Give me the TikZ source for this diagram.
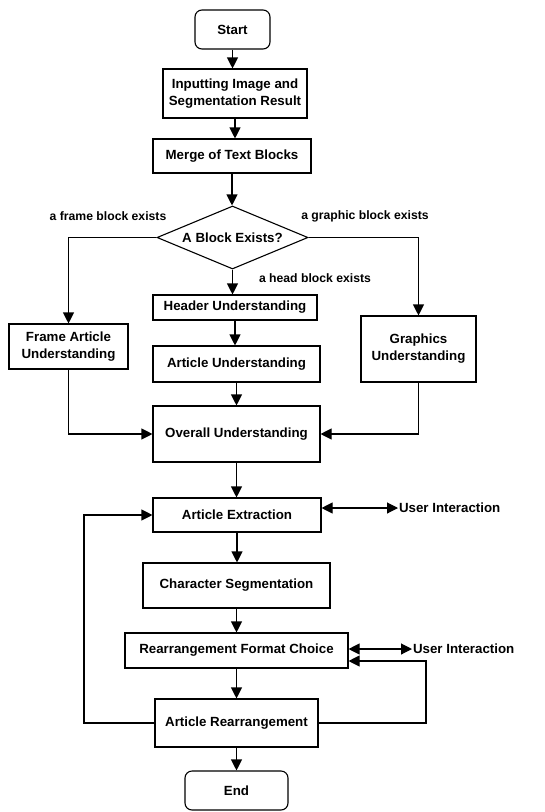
\documentclass[tikz,border=0pt]{standalone}
\usepackage{fontspec}
\setmainfont{Liberation Sans}
\usetikzlibrary{shapes.geometric,arrows.meta}
\begin{document}
\begin{tikzpicture}[x=1pt,y=-1pt,
  every path/.style={line width=1.1pt},
  box/.style={draw, line width=1.1pt, align=center, inner sep=0pt,
    font=\bfseries\fontsize{13.3}{17}\selectfont},
  term/.style={box, rounded corners=7pt},
  lab/.style={inner sep=0pt, font=\bfseries\fontsize{12.2}{14}\selectfont},
  arr/.style={-{Triangle[length=11pt,width=11pt]}},
  darr/.style={{Triangle[length=11pt,width=11pt]}-{Triangle[length=11pt,width=11pt]}}]
\useasboundingbox (0,0) rectangle (545,812);
\node[term, minimum width=75pt, minimum height=39pt] (start) at (232.5,29.5) {Start};
\node[box, minimum width=144pt, minimum height=49pt] (inp) at (235,93.5) {Inputting Image and\\Segmentation Result};
\node[box, minimum width=158pt, minimum height=34pt] (merge) at (232,156) {Merge of Text Blocks};
\node[box, diamond, aspect=2.4, minimum width=151pt, minimum height=63pt] (dec) at (232.5,237.5) {A Block Exists?};
\node[box, minimum width=119pt, minimum height=45pt] (frame) at (68.5,346.5) {Frame Article\\Understanding};
\node[box, minimum width=164pt, minimum height=25pt] (header) at (235,307.5) {Header Understanding};
\node[box, minimum width=167pt, minimum height=36pt] (artu) at (236.5,364) {Article Understanding};
\node[box, minimum width=115pt, minimum height=66pt] (graph) at (418.5,349) {Graphics\\Understanding};
\node[box, minimum width=167pt, minimum height=56pt] (overall) at (236.5,434) {Overall Understanding};
\node[box, minimum width=168pt, minimum height=34pt] (extr) at (237,515) {Article Extraction};
\node[box, minimum width=187pt, minimum height=45pt] (charseg) at (236.5,585.5) {Character Segmentation};
\node[box, minimum width=223pt, minimum height=35pt] (rfc) at (236.5,650.5) {Rearrangement Format Choice};
\node[box, minimum width=163pt, minimum height=48pt] (rear) at (236.5,723) {Article Rearrangement};
\node[term, minimum width=103pt, minimum height=39pt] (endn) at (236.5,790.5) {End};

\node[lab] (l1) at (108,216) {a frame block exists};
\node[lab] (l2) at (365,216) {a graphic block exists};
\node[lab] (l3) at (315,278) {a head block exists};
\node[box, draw=none, anchor=west, inner sep=0.5pt] (ui1) at (398,508) {User Interaction};
\node[box, draw=none, anchor=west, inner sep=0.5pt] (ui2) at (412,649) {User Interaction};
\coordinate (lr) at (426,661);
\coordinate (ll) at (84,515);

\draw[arr] (start.south) -- (start.south |- inp.north);
\draw[arr] (inp.south) -- (inp.south |- merge.north);
\draw[arr] (merge.south) -- (merge.south |- dec.north);
\draw[arr] (dec.west) -| (frame.north);
\draw[arr] (dec.east) -| (graph.north);
\draw[arr] (dec.south) -- (dec.south |- header.north);
\draw[arr] (header.south) -- (header.south |- artu.north);
\draw[arr] (artu.south) -- (artu.south |- overall.north);
\draw[arr] (frame.south) |- (overall.west);
\draw[arr] (graph.south) |- (overall.east);
\draw[arr] (overall.south) -- (overall.south |- extr.north);
\draw[darr] (extr.east |- ui1.west) -- (ui1.west);
\draw[arr] (extr.south) -- (extr.south |- charseg.north);
\draw[arr] (charseg.south) -- (charseg.south |- rfc.north);
\draw[darr] (rfc.east |- ui2.west) -- (ui2.west);
\draw[arr] (rfc.south) -- (rfc.south |- rear.north);
\draw[arr] (rear.east) -| (lr) -- (rfc.east |- lr);
\draw[arr] (rear.west) -| (ll) -- (extr.west);
\draw[arr] (rear.south) -- (rear.south |- endn.north);
\end{tikzpicture}
\end{document}
